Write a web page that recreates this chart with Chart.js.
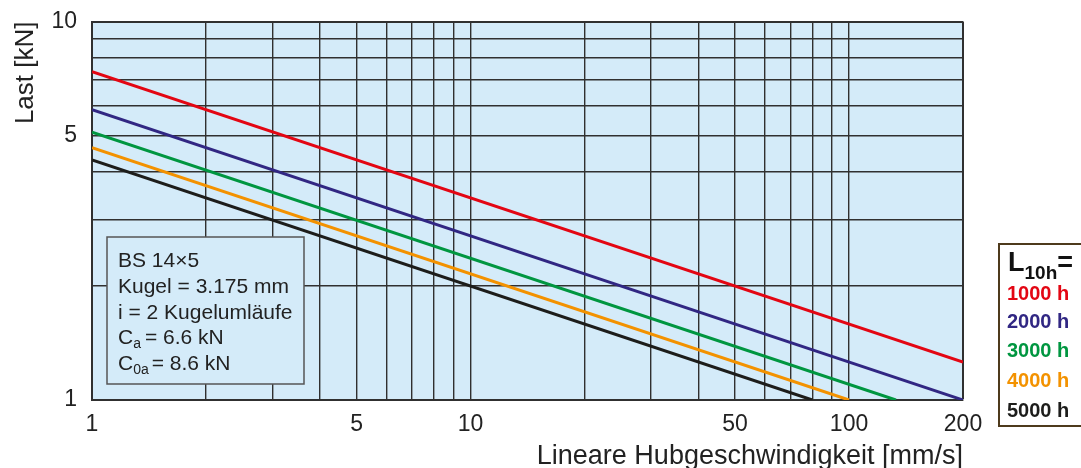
<!DOCTYPE html>
<html>
<head>
<meta charset="utf-8">
<script src="https://cdn.jsdelivr.net/npm/chart.js@4/dist/chart.umd.min.js"></script>
<style>
html,body{margin:0;padding:0;background:#fff;}
#wrap{width:1081px;height:468px;position:relative;}
</style>
</head>
<body>
<div id="wrap"><canvas id="c" width="1081" height="468"></canvas></div>
<script>
// ---- data ----
const lifeLabels = ['1000 h', '2000 h', '3000 h', '4000 h', '5000 h'];
const redX = [1, 200];    const redY = [7.37, 1.26];
const blueX = [1, 200];   const blueY = [5.85, 1.0];
const greenX = [1, 133];  const greenY = [5.1, 1.0];
const orangeX = [1, 100]; const orangeY = [4.64, 1.0];
const blackX = [1, 80];   const blackY = [4.31, 1.0];
const xGridValues = [1,2,3,4,5,6,7,8,9,10,20,30,40,50,60,70,80,90,100,200];
const yGridValues = [1,2,3,4,5,6,7,8,9,10];
const xTickLabels = [1, 5, 10, 50, 100, 200];
const yTickLabels = [1, 5, 10];
const infoLines = ['BS 14×5', 'Kugel = 3.175 mm', 'i = 2 Kugelumläufe'];
const xTitle = 'Lineare Hubgeschwindigkeit [mm/s]';
const yTitle = 'Last [kN]';

const FONT = '"Liberation Sans", Arial, Helvetica, sans-serif';
const colors = ['#e30613', '#312783', '#009640', '#f39200', '#1d1d1b'];
const PLOT_BG = '#d4ebf9';
const GRID = '#303030';

function pts(xs, ys) { return xs.map((x, i) => ({x: x, y: ys[i]})); }
const seriesXY = [[redX, redY], [blueX, blueY], [greenX, greenY], [orangeX, orangeY], [blackX, blackY]];

const datasets = seriesXY.map((s, i) => ({
  label: lifeLabels[i],
  data: pts(s[0], s[1]),
  borderColor: colors[i],
  backgroundColor: colors[i],
  borderWidth: 3,
  pointRadius: 0,
  fill: false,
  tension: 0
}));

const bgPlugin = {
  id: 'bg',
  beforeDraw(chart) {
    const {ctx, chartArea: a} = chart;
    ctx.save();
    ctx.fillStyle = PLOT_BG;
    ctx.fillRect(a.left, a.top, a.right - a.left, a.bottom - a.top);
    ctx.restore();
  },
  beforeDatasetsDraw(chart) {
    // info box
    const {ctx, chartArea: a} = chart;
    const bx = a.left + 15, by = 237, bw = 197, bh = 147;
    ctx.save();
    ctx.fillStyle = PLOT_BG;
    ctx.fillRect(bx, by, bw, bh);
    ctx.strokeStyle = '#555';
    ctx.lineWidth = 1.5;
    ctx.strokeRect(bx, by, bw, bh);
    ctx.fillStyle = '#222';
    ctx.textBaseline = 'alphabetic';
    ctx.textAlign = 'left';
    const tx = bx + 11;
    const base = [267, 293, 319, 344, 370];
    ctx.font = '21px ' + FONT;
    infoLines.forEach((t, i) => ctx.fillText(t, tx, base[i]));
    // C_a line
    let x = tx;
    ctx.fillText('C', x, base[3]); x += ctx.measureText('C').width;
    ctx.font = '14px ' + FONT;
    ctx.fillText('a', x, base[3] + 4); x += ctx.measureText('a').width + 1;
    ctx.font = '21px ' + FONT;
    ctx.fillText('= 6.6 kN', x + 3, base[3]);
    // C_0a line
    x = tx;
    ctx.fillText('C', x, base[4]); x += ctx.measureText('C').width;
    ctx.font = '14px ' + FONT;
    ctx.fillText('0a', x, base[4] + 4); x += ctx.measureText('0a').width + 1;
    ctx.font = '21px ' + FONT;
    ctx.fillText('= 8.6 kN', x + 2, base[4]);
    ctx.restore();
  },
  afterDraw(chart) {
    // legend box
    const {ctx} = chart;
    ctx.save();
    ctx.strokeStyle = '#4e3a1c';
    ctx.lineWidth = 2;
    ctx.fillStyle = '#ffffff';
    ctx.fillRect(999, 244, 100, 182);
    ctx.strokeRect(999, 244, 100, 182);
    ctx.textBaseline = 'alphabetic';
    ctx.textAlign = 'left';
    ctx.fillStyle = '#111';
    let x = 1008;
    ctx.font = 'bold 27px ' + FONT;
    ctx.fillText('L', x, 271); x += ctx.measureText('L').width;
    ctx.font = 'bold 19px ' + FONT;
    ctx.fillText('10h', x, 279); x += ctx.measureText('10h').width;
    ctx.font = 'bold 27px ' + FONT;
    ctx.fillText('=', x, 271);
    const lb = [300, 328, 357, 387, 417];
    ctx.font = 'bold 20px ' + FONT;
    lifeLabels.forEach((t, i) => {
      ctx.fillStyle = colors[i];
      ctx.fillText(t, 1007, lb[i]);
    });
    ctx.restore();
  }
};

new Chart(document.getElementById('c'), {
  type: 'line',
  data: { datasets: datasets },
  plugins: [bgPlugin],
  options: {
    responsive: false,
    animation: false,
    devicePixelRatio: 1,
    layout: { padding: { left: 0, right: 118, top: 21.5, bottom: 0 } },
    plugins: { legend: { display: false }, tooltip: { enabled: false } },
    scales: {
      x: {
        type: 'logarithmic',
        min: 1, max: 200,
        afterBuildTicks(scale) { scale.ticks = xGridValues.map(v => ({value: v})); },
        afterFit(scale) { scale.height = 68; scale.paddingLeft = 0; scale.paddingRight = 0; },
        grid: {
          color: GRID,
          lineWidth: (c) => (c.tick && (c.tick.value === 200) ? 2 : 1.4),
          drawTicks: false
        },
        border: { display: true, color: GRID, width: 2 },
        ticks: {
          autoSkip: false, maxRotation: 0, minRotation: 0,
          padding: 11,
          color: '#222',
          font: { family: FONT, size: 23 },
          callback: (v) => xTickLabels.includes(v) ? String(v) : ''
        },
        title: {
          display: true, text: xTitle, align: 'end', color: '#222',
          font: { family: FONT, size: 27, lineHeight: 0.8 },
          padding: { top: 0, bottom: 1 }
        }
      },
      y: {
        type: 'logarithmic',
        min: 1, max: 10,
        afterBuildTicks(scale) { scale.ticks = yGridValues.map(v => ({value: v})); },
        afterFit(scale) { scale.width = 92; scale.paddingTop = 0; scale.paddingBottom = 0; },
        grid: {
          color: GRID,
          lineWidth: (c) => (c.tick && (c.tick.value === 10) ? 2 : 1.4),
          drawTicks: false
        },
        border: { display: true, color: GRID, width: 2 },
        ticks: {
          autoSkip: false,
          padding: 15,
          color: '#222',
          font: { family: FONT, size: 23 },
          callback: (v) => yTickLabels.includes(v) ? String(v) : ''
        },
        title: {
          display: true, text: yTitle, align: 'end', color: '#222',
          font: { family: FONT, size: 26, lineHeight: 1.2 },
          padding: { top: 10, bottom: 0 }
        }
      }
    }
  }
});
</script>
</body>
</html>
